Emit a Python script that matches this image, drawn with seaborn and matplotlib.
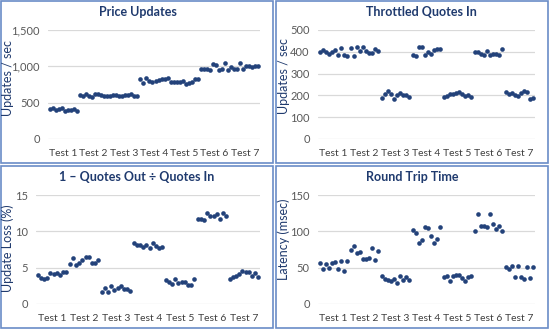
import numpy as np
import pandas as pd
import matplotlib
matplotlib.use("Agg")
import matplotlib.pyplot as plt
import seaborn as sns
from matplotlib.patches import Rectangle

tests = ["Test 1", "Test 2", "Test 3", "Test 4", "Test 5", "Test 6", "Test 7"]

price_updates = [
    [415, 420, 405, 410, 420, 390, 405, 400, 410, 385],
    [610, 590, 625, 590, 580, 615, 625, 605, 590, 590],
    [595, 600, 605, 595, 590, 610, 600, 620, 590, 585],
    [825, 770, 840, 805, 780, 805, 815, 820, 830, 840],
    [785, 780, 780, 780, 800, 760, 775, 790, 820, 830],
    [965, 965, 960, 950, 1030, 1015, 945, 960, 1045, 950],
    [990, 970, 965, 1050, 960, 1000, 1010, 985, 1010, 1000],
]
throttled_quotes = [
    [398, 408, 398, 388, 400, 408, 385, 418, 385, 380],
    [418, 382, 420, 402, 420, 405, 396, 396, 412, 405],
    [187, 208, 218, 205, 182, 200, 212, 204, 202, 192],
    [385, 380, 420, 420, 385, 398, 388, 410, 415, 412],
    [192, 195, 208, 205, 212, 215, 205, 198, 200, 192],
    [398, 400, 390, 384, 405, 385, 392, 390, 386, 415],
    [215, 205, 212, 202, 196, 212, 218, 215, 185, 187],
]
update_loss = [
    [4.0, 3.6, 3.4, 3.6, 4.3, 4.1, 4.3, 4.0, 4.4, 4.4],
    [5.55, 6.36, 5.4, 5.6, 6.1, 6.5, 6.5, 5.7, 5.7, 6.1],
    [1.7, 2.2, 1.7, 2.5, 1.95, 2.2, 2.5, 2.05, 2.05, 1.85],
    [8.35, 8.1, 8.1, 7.9, 8.1, 7.7, 8.35, 8.0, 7.7, 7.9],
    [3.3, 3.05, 2.75, 3.4, 2.85, 3.05, 3.05, 2.6, 2.6, 3.5],
    [11.7, 11.75, 11.5, 12.5, 12.05, 12.05, 12.4, 11.75, 12.5, 12.1],
    [3.5, 3.7, 3.9, 4.15, 4.55, 4.45, 4.45, 3.8, 4.3, 3.75],
]
round_trip = [
    [56.5, 48.5, 55.5, 50, 56.5, 57.5, 48, 59, 45, 59],
    [74, 79.5, 70, 72, 61.5, 61.5, 63, 77.5, 60.5, 73],
    [38.5, 34, 33, 32, 34, 29.5, 38.5, 32.5, 36.5, 33.5],
    [102, 97.5, 83.5, 88.5, 105.5, 104.5, 94, 83.5, 89.5, 106],
    [36.5, 38.5, 32, 38.5, 39.5, 39.5, 35.5, 32, 36.5, 38],
    [100, 124.5, 108, 107, 106, 124.5, 110, 103.5, 107, 100],
    [51, 47.5, 52, 37, 52, 37, 34, 51, 35.5, 51],
]

titles = ["Price Updates", "Throttled Quotes In", "1 \u2013 Quotes Out \u00f7 Quotes In", "Round Trip Time"]
ylabels = ["Updates / sec", "Updates / sec", "Update Loss (%)", "Latency (msec)"]
yticks_list = [[0, 500, 1000, 1500], [0, 100, 200, 300, 400, 500], [0, 5, 10, 15], [0, 50, 100, 150]]

sns.set_style("white")
plt.rcParams["font.family"] = ["Lato", "DejaVu Sans"]

W, H = 550, 330
fig = plt.figure(figsize=(5.5, 3.3), dpi=100)

NAVY = "#1F3A6E"
MARK = "#23427A"
GRID = "#D9D9D9"
TICK = "#595959"
BORDER = "#6A8CC7"

# axes boxes in pixels: left, right, top, bottom
boxes = [(48, 260, 30, 139), (318, 535, 30, 139), (36, 260, 195, 304), (318, 535, 195, 304)]
panels = [(1, 1, 273, 163), (276, 1, 548, 163), (1, 166, 273, 328), (276, 166, 548, 328)]
title_pos = [(138, 12), (421, 12), (137, 177), (412, 177)]
ylab_pos = [(8, 78), (284, 76), (8, 248), (284, 239)]

datasets = [price_updates, throttled_quotes, update_loss, round_trip]

for i, data in enumerate(datasets):
    l, r, t, b = boxes[i]
    ax = fig.add_axes([l / W, 1 - b / H, (r - l) / W, (b - t) / H])
    vals = [v for grp in data for v in grp]
    df = pd.DataFrame({"x": np.arange(len(vals)) + 0.5, "y": vals})
    sns.scatterplot(data=df, x="x", y="y", ax=ax, color=MARK, s=11, linewidth=0, clip_on=False, zorder=3)
    yt = yticks_list[i]
    ax.set_ylim(yt[0], yt[-1])
    ax.set_xlim(0, len(vals))
    ax.set_yticks(yt)
    ax.set_yticklabels([f"{v:,}" for v in yt])
    ax.set_xticks(np.arange(len(tests)) * 10 + 5)
    ax.set_xticklabels(tests)
    ax.grid(axis="y", color=GRID, linewidth=0.9)
    ax.grid(axis="x", visible=False)
    for s in ax.spines.values():
        s.set_visible(False)
    ax.tick_params(axis="y", length=0, pad=6, labelsize=8, labelcolor=TICK)
    ax.tick_params(axis="x", length=0, pad=7, labelsize=7.5, labelcolor="#404040")
    ax.set_xlabel("")
    ax.set_ylabel("")
    ax.set_axisbelow(True)

    tx, ty = title_pos[i]
    fig.text(tx / W, 1 - ty / H, titles[i], ha="center", va="center", fontsize=9, fontweight="bold", color=NAVY)
    yx, yy = ylab_pos[i]
    fig.text(yx / W, 1 - yy / H, ylabels[i], ha="center", va="center", rotation=90, fontsize=9, color=NAVY)

    px0, py0, px1, py1 = panels[i]
    fig.add_artist(Rectangle((px0 / W, 1 - py1 / H), (px1 - px0) / W, (py1 - py0) / H,
                             transform=fig.transFigure, fill=False, edgecolor=BORDER, linewidth=1.2))

fig.savefig("out.png", dpi=100)
